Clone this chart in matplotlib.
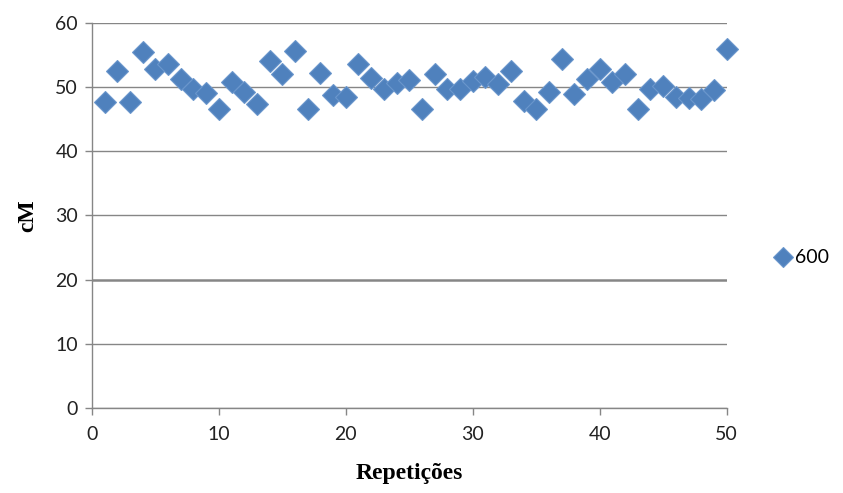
import matplotlib
matplotlib.use("Agg")
import matplotlib.pyplot as plt

repeticoes = list(range(1, 51))
cm_600 = [
    47.6, 52.5, 47.6, 55.4, 52.8, 53.5, 51.3, 49.7, 49.0, 46.5,
    50.7, 49.2, 47.4, 54.1, 52.0, 55.6, 46.5, 52.2, 48.8, 48.4,
    53.5, 51.4, 49.7, 50.6, 51.1, 46.5, 52.0, 49.7, 49.7, 51.0,
    51.5, 50.4, 52.5, 47.8, 46.6, 49.2, 54.3, 48.9, 51.2, 52.8,
    50.7, 52.0, 46.6, 49.7, 50.2, 48.4, 48.3, 48.1, 49.6, 55.9,
]
x_ticks = [0, 10, 20, 30, 40, 50]
y_ticks = [0, 10, 20, 30, 40, 50, 60]

blue = "#4F81BD"
gray = "#868686"

fig = plt.figure(figsize=(8.43, 4.93), dpi=100)
ax = fig.add_axes([0.109, 0.172, 0.753, 0.782])

ax.plot(repeticoes, cm_600, linestyle="none", marker="D", markersize=11.5,
        color=blue, markeredgecolor="#6a96cc", markeredgewidth=0.8, label="600",
        zorder=3, clip_on=False)

ax.set_xlim(0, 50)
ax.set_ylim(0, 60)
ax.set_xticks(x_ticks)
ax.set_yticks(y_ticks)
ax.yaxis.grid(True, color=gray, linewidth=1.0)
# the 20 line looks a bit heavier in the original
ax.get_ygridlines()[2].set_linewidth(1.8)
ax.set_axisbelow(True)

for side in ("top", "right"):
    ax.spines[side].set_visible(False)
for side in ("left", "bottom"):
    ax.spines[side].set_color(gray)
    ax.spines[side].set_linewidth(1.0)

ax.tick_params(axis="both", direction="out", length=5, width=1.0, color=gray,
               labelsize=14, labelcolor="#222222")
ax.tick_params(axis="y", pad=5)
ax.tick_params(axis="x", pad=8)
for lbl in ax.get_xticklabels() + ax.get_yticklabels():
    lbl.set_family("Lato")

ax.set_xlabel("Repetições", family="Liberation Serif", fontweight="bold",
              fontsize=17, labelpad=14)
ax.set_ylabel("cM", family="Liberation Serif", fontweight="bold",
              fontsize=17, labelpad=12)

ax.legend(loc="center left", bbox_to_anchor=(1.065, 0.39), frameon=False,
          prop={"family": "Lato", "size": 14}, handlelength=0.8,
          handletextpad=0.2, borderaxespad=0, markerscale=0.85)

fig.savefig("out.png", dpi=100)
